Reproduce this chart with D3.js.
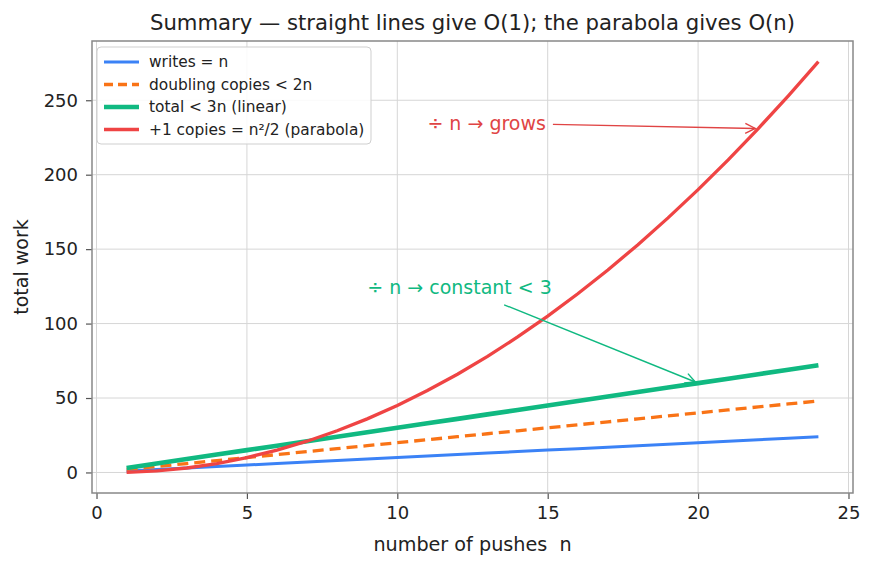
<!DOCTYPE html>
<html>
<head>
<meta charset="utf-8">
<script src="https://cdn.jsdelivr.net/npm/d3@7"></script>
<style>
  body { margin: 0; background: #fff; }
  svg text { font-family: 'DejaVu Sans', sans-serif; fill: #222; white-space: pre; }
</style>
</head>
<body>
<script>
var pushes         = [1, 2, 3, 4, 5, 6, 7, 8, 9, 10, 11, 12, 13, 14, 15, 16, 17, 18, 19, 20, 21, 22, 23, 24];
var writes         = [1, 2, 3, 4, 5, 6, 7, 8, 9, 10, 11, 12, 13, 14, 15, 16, 17, 18, 19, 20, 21, 22, 23, 24];
var doublingCopies = [2, 4, 6, 8, 10, 12, 14, 16, 18, 20, 22, 24, 26, 28, 30, 32, 34, 36, 38, 40, 42, 44, 46, 48];
var totalWork      = [3, 6, 9, 12, 15, 18, 21, 24, 27, 30, 33, 36, 39, 42, 45, 48, 51, 54, 57, 60, 63, 66, 69, 72];
var plusOneCopies  = [0, 1, 3, 6, 10, 15, 21, 28, 36, 45, 55, 66, 78, 91, 105, 120, 136, 153, 171, 190, 210, 231, 253, 276];

var xTicks = [0, 5, 10, 15, 20, 25];
var yTicks = [0, 50, 100, 150, 200, 250];

var seriesNames = ['writes = n', 'doubling copies < 2n', 'total < 3n (linear)', '+1 copies = n\u00b2/2 (parabola)'];

var W = 872, H = 567;
var plotL = 92, plotR = 853, plotT = 41, plotB = 493;

var svg = d3.select('body').append('svg')
  .attr('width', W)
  .attr('height', H);

var x = d3.scaleLinear().domain([-0.15, 25.15]).range([plotL, plotR]);
var y = d3.scaleLinear().domain([-13.8, 289.8]).range([plotB, plotT]);

// grid
svg.append('g').selectAll('line')
  .data(xTicks)
  .enter()
  .append('line')
    .attr('x1', function(d) { return x(d); })
    .attr('x2', function(d) { return x(d); })
    .attr('y1', plotT)
    .attr('y2', plotB)
    .attr('stroke', '#d6d6d6')
    .attr('stroke-width', 1);

svg.append('g').selectAll('line')
  .data(yTicks)
  .enter()
  .append('line')
    .attr('x1', plotL)
    .attr('x2', plotR)
    .attr('y1', function(d) { return y(d); })
    .attr('y2', function(d) { return y(d); })
    .attr('stroke', '#d6d6d6')
    .attr('stroke-width', 1);

// axes
var xAxis = svg.append('g')
  .attr('transform', 'translate(0,' + plotB + ')')
  .call(d3.axisBottom(x).tickValues(xTicks).tickSize(6).tickPadding(7));

var yAxis = svg.append('g')
  .attr('transform', 'translate(' + plotL + ',0)')
  .call(d3.axisLeft(y).tickValues(yTicks).tickSize(6).tickPadding(8));

[xAxis, yAxis].forEach(function(a) {
  a.select('.domain').remove();
  a.selectAll('.tick line').attr('stroke', '#555').attr('stroke-width', 1.2);
  a.selectAll('.tick text').style('font-size', '18px').attr('fill', '#222');
});

// lines
var series = [
  {values: writes, color: '#3b82f6', width: 3, dash: null},
  {values: doublingCopies, color: '#f97316', width: 3.3, dash: '11,6'},
  {values: totalWork, color: '#10b981', width: 4.6, dash: null},
  {values: plusOneCopies, color: '#ef4444', width: 3.3, dash: null}
];

var line = d3.line()
  .x(function(d) { return x(d[0]); })
  .y(function(d) { return y(d[1]); });

svg.append('g').selectAll('path')
  .data(series)
  .enter()
  .append('path')
    .attr('d', function(s) { return line(d3.zip(pushes, s.values)); })
    .attr('fill', 'none')
    .attr('stroke', function(s) { return s.color; })
    .attr('stroke-width', function(s) { return s.width; })
    .attr('stroke-dasharray', function(s) { return s.dash; });

// frame
svg.append('rect')
  .attr('x', plotL)
  .attr('y', plotT)
  .attr('width', plotR - plotL)
  .attr('height', plotB - plotT)
  .attr('fill', 'none')
  .attr('stroke', '#888')
  .attr('stroke-width', 1.5);

// annotations
var notes = [
  {text: '\u00f7 n \u2192 grows', at: [11, 230], to: [22, 231], color: '#e04444'},
  {text: '\u00f7 n \u2192 constant < 3', at: [9, 120], to: [20, 60], color: '#10b981'}
];

notes.forEach(function(nt) {
  var t = svg.append('text')
    .attr('x', x(nt.at[0]))
    .attr('y', y(nt.at[1]))
    .style('font-size', '19px')
    .style('fill', nt.color)
    .text(nt.text);
  var b = t.node().getBBox();
  var pad = 7;
  var cx = b.x + b.width / 2, cy = b.y + b.height / 2;
  var tx = x(nt.to[0]), ty = y(nt.to[1]);
  var dx = tx - cx, dy = ty - cy;
  var ts = [];
  if (dx > 0) ts.push((b.x + b.width + pad - cx) / dx);
  if (dx < 0) ts.push((b.x - pad - cx) / dx);
  if (dy > 0) ts.push((b.y + b.height + pad - cy) / dy);
  if (dy < 0) ts.push((b.y - pad - cy) / dy);
  var k = d3.min(ts);
  var sx = cx + dx * k, sy = cy + dy * k;
  var len = Math.sqrt((tx - sx) * (tx - sx) + (ty - sy) * (ty - sy));
  var ux = (tx - sx) / len, uy = (ty - sy) / len;
  var ex = tx - ux * 3, ey = ty - uy * 3;
  var hl = 10, hw = 5;
  var g = svg.append('g')
    .attr('fill', 'none')
    .attr('stroke', nt.color)
    .attr('stroke-width', 1.4);
  g.append('line')
    .attr('x1', sx).attr('y1', sy)
    .attr('x2', ex).attr('y2', ey);
  g.append('polyline')
    .attr('points', [
      [ex - ux * hl - uy * hw, ey - uy * hl + ux * hw],
      [ex, ey],
      [ex - ux * hl + uy * hw, ey - uy * hl - ux * hw]
    ].map(function(p) { return p.join(','); }).join(' '));
});

// legend
var legend = svg.append('g').attr('transform', 'translate(97,47)');

legend.append('rect')
  .attr('width', 274)
  .attr('height', 97)
  .attr('rx', 4)
  .attr('fill', '#fff')
  .attr('fill-opacity', 0.85)
  .attr('stroke', '#cfcfcf')
  .attr('stroke-width', 1);

var rows = legend.selectAll('.row')
  .data(series)
  .enter()
  .append('g')
    .attr('transform', function(d, i) { return 'translate(0,' + (15 + i * 22.5) + ')'; });

rows.append('line')
  .attr('x1', 7)
  .attr('x2', 42)
  .attr('stroke', function(s) { return s.color; })
  .attr('stroke-width', function(s) { return s.width; })
  .attr('stroke-dasharray', function(s) { return s.dash ? '9,5' : null; });

rows.append('text')
  .attr('x', 52)
  .attr('dy', '0.35em')
  .style('font-size', '15.4px')
  .text(function(d, i) { return seriesNames[i]; });

// titles
svg.append('text')
  .attr('x', (plotL + plotR) / 2)
  .attr('y', 30)
  .attr('text-anchor', 'middle')
  .style('font-size', '21.2px')
  .text('Summary \u2014 straight lines give O(1); the parabola gives O(n)');

svg.append('text')
  .attr('x', (plotL + plotR) / 2)
  .attr('y', 551)
  .attr('text-anchor', 'middle')
  .style('font-size', '19.2px')
  .text('number of pushes  n');

svg.append('text')
  .attr('transform', 'translate(28,' + ((plotT + plotB) / 2) + ') rotate(-90)')
  .attr('text-anchor', 'middle')
  .style('font-size', '19px')
  .text('total work');
</script>
</body>
</html>
